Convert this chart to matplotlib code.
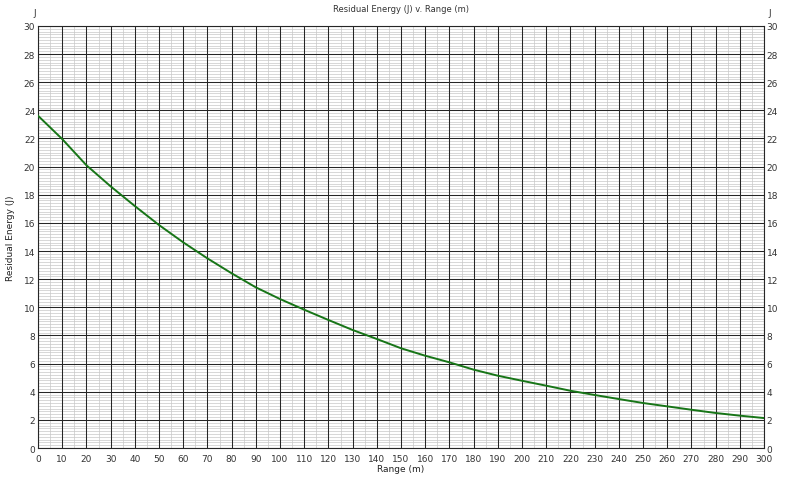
import matplotlib
matplotlib.use('Agg')
import matplotlib.pyplot as plt
import numpy as np

# range (m) and residual energy (J)
rng = [0, 10, 20, 30, 40, 50, 60, 70, 80, 90, 100, 110, 120, 130, 140, 150,
       160, 170, 180, 190, 200, 210, 220, 230, 240, 250, 260, 270, 280, 290, 300]
energy = [23.62, 21.96, 20.10, 18.60, 17.20, 15.85, 14.62, 13.48, 12.42, 11.42,
          10.59, 9.83, 9.10, 8.39, 7.75, 7.09, 6.56, 6.09, 5.57, 5.14,
          4.78, 4.43, 4.07, 3.77, 3.48, 3.20, 2.96, 2.72, 2.49, 2.30, 2.13]

x_ticks = list(range(0, 301, 10))
y_ticks = list(range(0, 31, 2))

plt.rcParams['font.family'] = 'DejaVu Sans'
plt.rcParams['font.size'] = 6

fig = plt.figure(figsize=(8, 4.81), dpi=100)
ax = fig.add_axes([0.0475, 0.0665, 0.9075, 0.8775])

ax.set_xlim(0, 300)
ax.set_ylim(0, 30)
ax.set_xticks(x_ticks)
ax.set_yticks(y_ticks)
# minor grid: every 5 m and every 0.2 J
ax.set_xticks(np.arange(0, 301, 5), minor=True)
ax.set_yticks(np.arange(0, 30.01, 0.2), minor=True)
ax.grid(which='minor', color='#c8c8c8', linewidth=0.5)
ax.set_axisbelow(True)

# major grid drawn as lines so it sits on top of the minor grid
for xv in x_ticks:
    ax.axvline(xv, color='#262626', linewidth=0.75, zorder=1)
for yv in y_ticks:
    ax.axhline(yv, color='#262626', linewidth=0.75, zorder=1)

ax.plot(rng, energy, color='#177517', linewidth=1.4, zorder=3)

ax.tick_params(which='both', length=0)
ax.tick_params(axis='x', labelsize=6.5, colors='#333333', pad=4)
ax.tick_params(axis='y', labelsize=6.5, colors='#333333', pad=2,
               right=True, labelright=True)
for s in ax.spines.values():
    s.set_color('#262626')
    s.set_linewidth(0.8)

ax.set_title('Residual Energy (J) v. Range (m)', fontsize=6, color='#333333', pad=11)
ax.set_xlabel('Range (m)', fontsize=6.5, color='#222222', labelpad=1)
ax.set_ylabel('Residual Energy (J)', fontsize=6.5, color='#222222', labelpad=6)
ax.text(-0.003, 1.022, 'J', transform=ax.transAxes, ha='right', va='bottom',
        fontsize=6.5, color='#333333')
ax.text(1.006, 1.022, 'J', transform=ax.transAxes, ha='left', va='bottom',
        fontsize=6.5, color='#333333')

fig.savefig('out.png', dpi=100, facecolor='white')
